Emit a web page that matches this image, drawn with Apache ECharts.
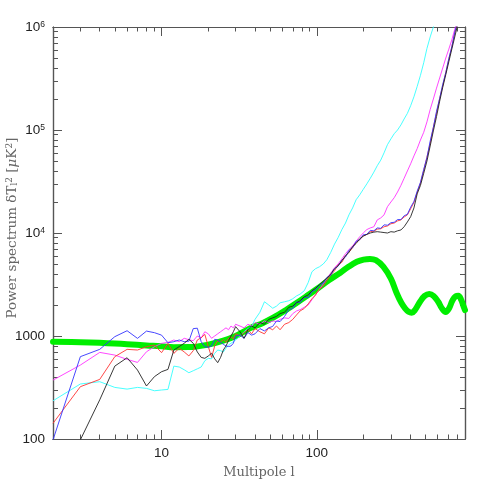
<!DOCTYPE html>
<html><head><meta charset="utf-8">
<script src="https://cdn.jsdelivr.net/npm/echarts@6/dist/echarts.min.js"></script>
<style>html,body{margin:0;padding:0;background:#fff}#c{width:491px;height:491px}</style>
</head><body><div id="c"></div>
<script>
// multipoles for the measured spectra
const L = [2,3,4,5,6,7,8,9,10,11,12,13,14,15,16,17,18,19,20,21,22,23,24,25,26,27,28,29,30,
  32,34,36,38,40,43,46,49,52,55,58,62,66,70,74,78,83,88,93,98,104,110,116,123,130,137,145,153,161,170,
  179,189,199,210,221,233,245,258,271,285,300,315,331,348,365,383,402,422,443,465,488,512,537,563,590,
  618,647,677,708,740,773,807,842,878,900];
const blue = [98,630,742,985,1125,948,1116,1077,1020,860,880,915,880,890,1180,1190,880,787,777,800,929,915,870,830,800,790,800,850,1000,
  1020,950,1080,1020,1050,1180,1120,1200,1240,1400,1380,1550,1800,1850,2150,2100,2400,2350,2700,2800,3150,3250,3700,3900,4500,4750,5450,5850,6800,7200,
  8300,8600,9600,9700,10600,10500,11200,11100,12000,11900,12600,12700,13500,13500,14700,15200,17800,20200,25500,31000,41500,54000,78000,106000,152000,
  202000,278000,360000,495000,640000,890000,1140000,1500000,1900000,2200000];
const red = [142,322,379,630,742,731,787,817,689,848,678,760,700,640,720,915,960,1037,790,620,800,900,880,920,870,950,980,940,1050,
  1000,1080,1150,1050,1180,1100,1050,1200,1150,1250,1150,1300,1350,1450,1600,1750,1850,2050,2300,2500,2850,3050,3450,3900,4300,4900,5200,6000,6500,7200,
  8100,8600,9400,9700,10300,10400,10900,11000,11500,11700,12300,12500,13100,13400,14300,15000,17200,19800,24800,30500,40500,54500,74000,106000,146000,
  202000,268000,362000,485000,640000,870000,1130000,1480000,1880000,2150000];
const magenta = [373,522,693,653,593,554,703,787,848,867,914,880,950,920,900,1000,960,1100,1050,950,1000,1050,1100,1150,1200,1150,1250,1200,1300,
  1250,1200,1300,1250,1350,1300,1400,1350,1400,1380,1450,1500,1480,1650,1750,1800,1900,2000,2250,2500,2850,3200,3600,4100,4600,5000,5600,6300,6900,7500,
  8300,9200,10000,10800,11200,11500,13400,14000,15000,18000,20000,22000,25000,29000,34000,40000,47000,56000,66000,80000,95000,120000,158000,200000,255000,
  320000,400000,500000,610000,750000,950000,1200000,1500000,1900000,2200000];
const cyan = [235,342,360,317,305,317,310,294,299,303,510,500,470,440,460,480,500,575,607,600,680,731,720,700,760,820,850,880,915,
  1000,1100,1180,1230,1450,1700,2150,2000,1860,1950,2100,2150,2200,2300,2450,2550,2750,3300,4200,4500,4700,5000,5500,6500,7800,9000,10800,12500,15000,17500,
  21000,23500,26500,30000,34000,39000,45000,51000,60000,72000,82000,92000,100000,112000,128000,145000,172000,210000,265000,340000,450000,620000,800000,1000000,1250000,
  1600000,2000000,2500000,3000000,3600000,4300000,5000000,6000000,7000000,8000000];
const black = [50,98,240,510,615,467,327,403,450,474,731,790,850,929,850,700,620,607,640,680,600,551,620,731,800,900,1000,1100,1233,
  1100,950,1150,1250,1200,1350,1300,1450,1500,1550,1650,1700,1900,1950,2100,2200,2400,2500,2750,2900,3150,3400,3650,4000,4500,4800,5400,6000,6500,7400,
  7900,8800,9300,9700,10000,10200,10300,10200,10100,10000,10300,10200,10500,10700,11500,12800,14400,17500,24000,29000,38000,50000,70000,98000,135000,
  190000,260000,345000,460000,610000,800000,1050000,1380000,1750000,2000000];
// theoretical model spectrum
const modelL = [2,3,4,5,6,8,10,12,15,20,25,30,37,45,52,63,74,87,100,120,141,160,181,200,220,240,268,300,327,350,370,390,408,430,462,495,530,565,605,640,676,710,750,785,815,850,880,900];
const modelV = [880,870,858,845,832,810,795,778,780,825,900,1000,1186,1340,1496,1780,2090,2470,2860,3500,4090,4700,5250,5520,5600,5450,4710,3600,2600,2100,1857,1720,1683,1800,2150,2450,2560,2450,2150,1850,1710,1850,2240,2430,2460,2250,1950,1786];
// axis ticks
const xMajor = [10, 100];
const xMinor = [3,4,5,6,7,8,9,20,30,40,50,60,70,80,90,200,300,400,500,600,700,800];
const xLabels = [10, 100];
const yMajor = [100, 1000, 10000, 100000, 1000000];
const yMinor = [200,300,400,500,600,700,800,900,2000,3000,4000,5000,6000,7000,8000,9000,
  20000,30000,40000,50000,60000,70000,80000,90000,200000,300000,400000,500000,600000,700000,800000,900000];
const yLabels = [100, 1000, 10000, 100000, 1000000];

const X0 = 2, X1 = 900, Y0 = 100, Y1 = 1000000;
const lg = Math.log10;
const frame = {color:'#555', width:1.2};

function decoX(pos, ticks, len, labels, name) {
  const a = {type:'value', position:pos, min:lg(X0), max:lg(X1), splitLine:{show:false},
    axisLine:{show:true, onZero:false, lineStyle:frame},
    axisTick:{show:true, inside:true, length:len, customValues:ticks.map(lg), lineStyle:{color:'#555', width:1}},
    axisLabel:{show:false}};
  if (labels) {
    a.axisLabel = {show:true, customValues:labels.map(lg), margin:7,
      formatter:v => String(Math.round(Math.pow(10, v))),
      fontFamily:'Liberation Sans', fontSize:13.5, color:'#222'};
  }
  if (name) {
    a.name = name; a.nameLocation = 'middle'; a.nameGap = 27; a.nameMoveOverlap = false;
    a.nameTextStyle = {fontFamily:'DejaVu Serif', fontSize:13, color:'#666'};
  }
  return a;
}
function decoY(pos, ticks, len, labels, name) {
  const a = {type:'value', position:pos, min:lg(Y0), max:lg(Y1), splitLine:{show:false},
    axisLine:{show:true, onZero:false, lineStyle:frame},
    axisTick:{show:true, inside:true, length:len, customValues:ticks.map(lg), lineStyle:{color:'#555', width:1}},
    axisLabel:{show:false}};
  if (labels) {
    a.axisLabel = {show:true, customValues:labels.map(lg), margin:8,
      formatter:v => { const e = Math.round(v); return e <= 3 ? String(Math.pow(10, e)) : '10{s|' + e + '}'; },
      fontFamily:'Liberation Sans', fontSize:13.5, color:'#222',
      rich:{s:{fontFamily:'Liberation Sans', fontSize:8.5, color:'#222', verticalAlign:'top'}}};
  }
  if (name) {
    a.name = name; a.nameLocation = 'middle'; a.nameGap = 34; a.nameMoveOverlap = false;
    a.nameTextStyle = {fontFamily:'DejaVu Serif', fontSize:13.5, color:'#666', padding:[0,0,0,10],
      rich:{
        b:{fontFamily:'DejaVu Serif', fontSize:13.5, color:'#666'},
        sub:{fontFamily:'DejaVu Serif', fontSize:9, color:'#666', verticalAlign:'bottom'},
        sup:{fontFamily:'DejaVu Serif', fontSize:9, color:'#666', verticalAlign:'top'},
        it:{fontFamily:'DejaVu Serif', fontStyle:'italic', fontSize:13.5, color:'#666'}
      }};
  }
  return a;
}

function pairs(xs, ys) { return xs.map((x, i) => [x, ys[i]]); }
function thin(name, arr, color) {
  return {name, type:'line', xAxisIndex:0, yAxisIndex:0, data:pairs(L, arr), showSymbol:false, symbol:'none',
    clip:true, lineStyle:{color, width:0.9}, itemStyle:{color}, z:3, silent:true, animation:false};
}

const chart = echarts.init(document.getElementById('c'), null, {renderer:'canvas'});
chart.setOption({
  animation:false,
  backgroundColor:'#fff',
  grid:{left:53, right:26, top:27, bottom:52, containLabel:false, outerBoundsMode:'none'},
  xAxis:[
    {type:'log', min:X0, max:X1, logBase:10, show:false},
    decoX('bottom', xMinor, 4.5, xLabels, 'Multipole l'),
    decoX('bottom', xMajor, 9),
    decoX('top', xMinor, 4.5),
    decoX('top', xMajor, 9)
  ],
  yAxis:[
    {type:'log', min:Y0, max:Y1, logBase:10, show:false},
    decoY('left', yMinor, 5, yLabels, '{b|Power spectrum δT}{sub|l}{sup|2}{b| [}{it|μ}{b|K}{sup|2}{b|]}'),
    decoY('left', yMajor, 9),
    decoY('right', yMinor, 5),
    decoY('right', yMajor, 9)
  ],
  series:[
    {name:'model', type:'line', xAxisIndex:0, yAxisIndex:0, data:pairs(modelL, modelV), smooth:0.4,
      showSymbol:false, symbol:'none', clip:true, lineStyle:{color:'#00ee00', width:6, cap:'round', join:'round'}, z:2, silent:true},
    thin('cyan', cyan, '#33ffff'),
    thin('magenta', magenta, '#ff33ff'),
    thin('red', red, '#ff3333'),
    thin('blue', blue, '#3333ff'),
    thin('black', black, '#222222')
  ]
});
</script></body></html>
